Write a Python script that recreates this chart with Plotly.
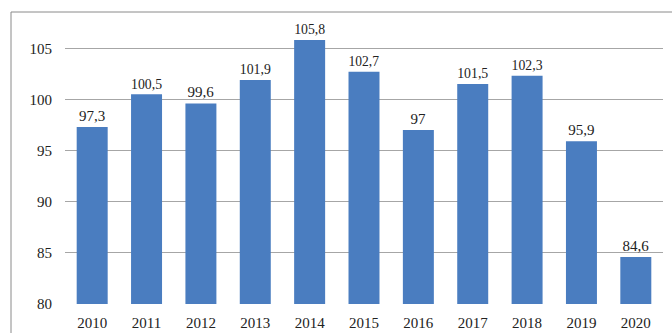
import plotly.graph_objects as go

# Annual index values, 2010-2020
years = ["2010", "2011", "2012", "2013", "2014", "2015", "2016", "2017", "2018", "2019", "2020"]
values = [97.3, 100.5, 99.6, 101.9, 105.8, 102.7, 97.0, 101.5, 102.3, 95.9, 84.6]
y_ticks = [80, 85, 90, 95, 100, 105]

labels = [f"{v:g}".replace(".", ",") for v in values]

FONT = "Liberation Serif"

fig = go.Figure(
    go.Bar(
        x=years,
        y=values,
        text=labels,
        textposition="outside",
        textfont=dict(family=FONT, size=15, color="#222222"),
        marker=dict(color="#4A7DC0", line=dict(width=0)),
        cliponaxis=False,
    )
)

W, H = 672, 333
ml, mr, mt, mb = 65, 9, 15, 29
pw, ph = W - ml - mr, H - mt - mb

# Outer frame of the chart area (left/top edges visible)
fig.add_shape(
    type="rect", xref="paper", yref="paper",
    x0=(11 - ml) / pw, x1=1.2,
    y0=-0.3, y1=1 + (mt - 12) / ph,
    line=dict(color="#8a8a8a", width=1), fillcolor="rgba(0,0,0,0)",
    layer="below",
)

fig.update_layout(
    width=W, height=H,
    margin=dict(l=ml, r=mr, t=mt, b=mb, autoexpand=False),
    plot_bgcolor="white", paper_bgcolor="white",
    bargap=0.43,
    showlegend=False,
    font=dict(family=FONT, size=15, color="#222222"),
    xaxis=dict(
        showgrid=False, showline=False, ticks="",
        automargin=False,
        ticklabelstandoff=8,
        tickfont=dict(family=FONT, size=15),
    ),
    yaxis=dict(
        range=[80, 108.25],
        tickvals=y_ticks,
        showgrid=True, gridcolor="#a6a6a6", gridwidth=1,
        zeroline=False, showline=False, ticks="",
        automargin=False,
        ticklabelstandoff=12,
        tickfont=dict(family=FONT, size=15),
    ),
)

fig.write_html("out.html")
